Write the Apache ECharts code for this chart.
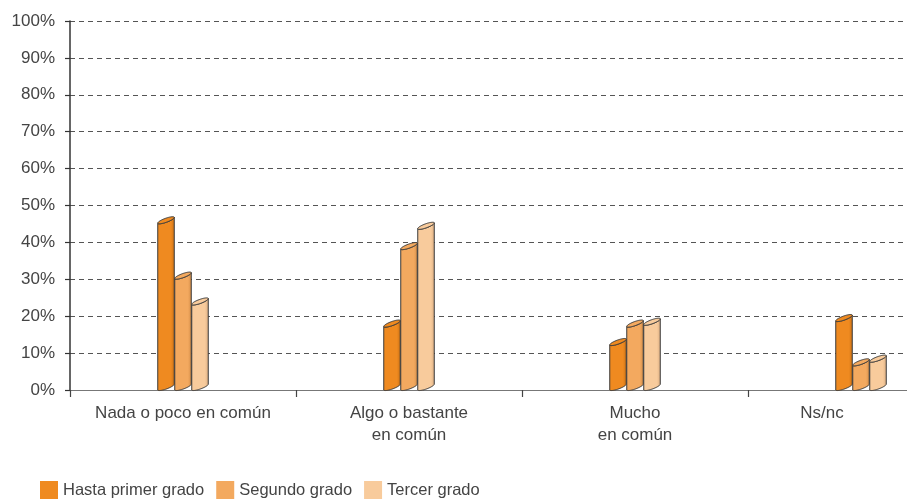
<!DOCTYPE html>
<html>
<head>
<meta charset="utf-8">
<script src="https://cdn.jsdelivr.net/npm/echarts@6/dist/echarts.min.js"></script>
<style>
  html, body { margin: 0; padding: 0; background: #ffffff; }
  #chart { width: 907px; height: 500px; }
</style>
</head>
<body>
<div id="chart"></div>
<script>
// Categories on the horizontal axis
const categories = ['Nada o poco en común', 'Algo o bastante\nen común', 'Mucho\nen común', 'Ns/nc'];

// Percentages per relationship degree
const hastaPrimerGrado = [46, 18, 13, 19.5];
const segundoGrado = [31, 39, 18, 7.5];
const tercerGrado = [24, 44.5, 18.5, 8.5];

const seriesNames = ['Hasta primer grado', 'Segundo grado', 'Tercer grado'];
const seriesData = [hastaPrimerGrado, segundoGrado, tercerGrado];
const seriesColors = ['#EF8A20', '#F3A95F', '#F8CB9C'];
const shadeColors = ['#C86F14', '#D28C48', '#D8AB80'];

const BAR_W = 16.5;   // width of one cylinder
const TILT = 3;       // half of the vertical drop across the cap
const CAP_RY = 2.0;   // minor radius of the cap ellipse

// Points along a tilted ellipse, from angle a0 to a1
function ellipsePoints(cx, cy, rx, ry, theta, a0, a1, n) {
  const pts = [];
  const ux = Math.cos(theta), uy = -Math.sin(theta);
  const vx = Math.sin(theta), vy = Math.cos(theta);
  for (let i = 0; i <= n; i++) {
    const a = a0 + (a1 - a0) * i / n;
    const c = Math.cos(a), s = Math.sin(a);
    pts.push([cx + rx * c * ux + ry * s * vx, cy + rx * c * uy + ry * s * vy]);
  }
  return pts;
}

function makeRenderItem(idx) {
  return function (params, api) {
    const cat = api.value(0);
    const val = api.value(1);
    const top = api.coord([cat, val]);
    const base = api.coord([cat, 0]);
    const cx = top[0] + (idx - 1) * (BAR_W + 0.5);
    const yt = top[1];
    const yb = base[1];
    const half = BAR_W / 2;
    const theta = Math.atan2(TILT, half);
    const rx = Math.sqrt(half * half + TILT * TILT);

    // Body: right edge, bottom front arc, left edge, front half of the cap
    const bottomFront = ellipsePoints(cx, yb - TILT, rx, CAP_RY, theta, 0, Math.PI, 24);
    const topFront = ellipsePoints(cx, yt, rx, CAP_RY, theta, Math.PI, 0, 24);
    const body = [[cx + half, yt - TILT]].concat(bottomFront, topFront);
    const cap = ellipsePoints(cx, yt, rx, CAP_RY, theta, 0, Math.PI * 2, 48);

    const stroke = '#3a3a3a';
    return {
      type: 'group',
      children: [
        {
          type: 'polygon',
          shape: { points: body },
          style: {
            fill: new echarts.graphic.LinearGradient(0, 0, 1, 0, [
              { offset: 0, color: seriesColors[idx] },
              { offset: 0.78, color: seriesColors[idx] },
              { offset: 1, color: shadeColors[idx] }
            ]),
            stroke: stroke,
            lineWidth: 1
          }
        },
        {
          type: 'polygon',
          shape: { points: cap },
          style: { fill: seriesColors[idx], stroke: stroke, lineWidth: 1 }
        }
      ]
    };
  };
}

const chart = echarts.init(document.getElementById('chart'), null, { renderer: 'canvas' });

const labelFont = 'Liberation Sans, Arial, Helvetica, sans-serif';

chart.setOption({
  animation: false,
  backgroundColor: '#ffffff',
  textStyle: { fontFamily: labelFont },
  grid: { left: 70, top: 21, width: 904, bottom: 110, outerBoundsMode: 'none', containLabel: false },
  legend: {
    data: seriesNames,
    left: 40,
    top: 481,
    padding: 0,
    icon: 'rect',
    itemWidth: 18,
    itemHeight: 18,
    itemGap: 12,
    textStyle: { fontSize: 16.5, color: '#444', fontFamily: labelFont, padding: [3, 0, 0, 0] }
  },
  xAxis: {
    type: 'category',
    data: categories,
    boundaryGap: true,
    axisLine: { lineStyle: { color: '#777', width: 1.2 } },
    axisTick: { show: true, length: 7, lineStyle: { color: '#444', width: 1.2 } },
    axisLabel: {
      fontSize: 17,
      color: '#444',
      margin: 12,
      lineHeight: 22,
      interval: 0,
      // the last category sits at the right edge of the plot, so its label is pulled inward
      formatter: function (value, index) {
        return index === categories.length - 1 ? '{edge|' + value + '}' : value;
      },
      rich: {
        edge: { fontSize: 17, color: '#444', lineHeight: 22, padding: [0, 78, 0, 0] }
      }
    },
    splitLine: { show: false }
  },
  yAxis: {
    type: 'value',
    min: 0,
    max: 100,
    interval: 10,
    axisLine: { show: true, lineStyle: { color: '#333', width: 1.5 } },
    axisTick: { show: true, length: 5, lineStyle: { color: '#333', width: 1.2 } },
    axisLabel: { formatter: '{value}%', fontSize: 17, color: '#444', margin: 15 },
    splitLine: { show: true, lineStyle: { type: [5, 4], color: '#555', width: 1 } }
  },
  series: seriesNames.map(function (name, i) {
    return {
      name: name,
      type: 'custom',
      renderItem: makeRenderItem(i),
      itemStyle: { color: seriesColors[i] },
      encode: { x: 0, y: 1 },
      data: seriesData[i].map(function (v, c) { return [c, v]; }),
      z: 3
    };
  })
});
</script>
</body>
</html>
